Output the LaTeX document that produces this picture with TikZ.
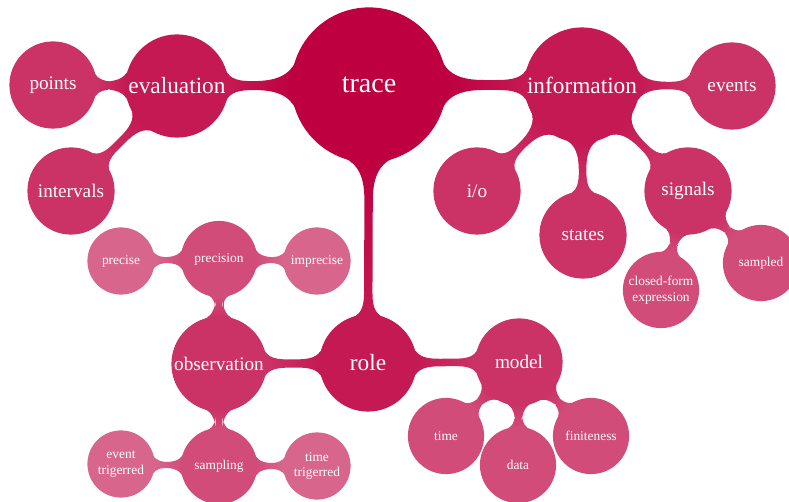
\documentclass[tikz,border=0pt]{standalone}
\usepackage{fontspec}
\setmainfont{Liberation Serif}
\usetikzlibrary{mindmap,backgrounds}
\definecolor{c0}{RGB}{190,0,64}
\colorlet{c1}{c0!90}
\colorlet{c2}{c0!80}
\colorlet{c3}{c0!70}
\colorlet{c4}{c0!60}
\begin{document}
\begin{tikzpicture}[x=1pt,y=-1pt,mindmap,
  base/.style={concept,text=white,inner sep=0pt,text width={},align=center},
  lv0/.style={base,concept color=c0,minimum size=154pt,font=\fontsize{28}{30}\selectfont},
  lv1/.style={base,concept color=c1,minimum size=96pt,font=\fontsize{23.3}{25}\selectfont},
  lv2/.style={base,concept color=c2,minimum size=86pt,font=\fontsize{19.2}{21}\selectfont},
  lv3/.style={base,concept color=c3,minimum size=75pt,font=\fontsize{13.4}{16}\selectfont},
  lv4/.style={base,concept color=c4,minimum size=66pt,font=\fontsize{13.4}{15.5}\selectfont}]
\useasboundingbox (0,0) rectangle (789,502);
% root
\node[lv0] (trace) at (369,85) {trace};
% level 1
\node[lv1,minimum size=102pt] (evaluation) at (177,86) {evaluation};
\node[lv1,minimum size=114pt] (information) at (582,85) {information};
\node[lv1] (role) at (368,363) {role};
% level 2
\node[lv2] (points) at (53,85) {points};
\node[lv2] (intervals) at (71,191) {intervals};
\node[lv2] (events) at (732,86) {events};
\node[lv2] (io) at (477,191) {i/o};
\node[lv2] (states) at (583,235) {states};
\node[lv2] (signals) at (688,191) {signals};
\node[lv2,minimum size=94pt] (observation) at (219,364) {observation};
\node[lv2] (model) at (519,362) {model};
% level 3
\node[lv3] (closed) at (661,290) {closed-form\\expression};
\node[lv3] (sampled) at (761,263) {sampled};
\node[lv3] (precision) at (219,259) {precision};
\node[lv3] (sampling) at (219,466) {sampling};
\node[lv3] (time) at (446,436) {time};
\node[lv3] (data) at (518,465) {data};
\node[lv3] (finiteness) at (591,436) {finiteness};
% level 4
\node[lv4] (precise) at (121,261) {precise};
\node[lv4] (imprecise) at (317,261) {imprecise};
\node[lv4] (eventtrig) at (121,464) {event\\trigerred};
\node[lv4] (timetrig) at (317,466) {time\\trigerred};
% connections
\begin{pgfonlayer}{background}
\path (trace) to[circle connection bar switch color=from (c0) to (c1)] (evaluation);
\path (trace) to[circle connection bar switch color=from (c0) to (c1)] (information);
\path (trace) to[circle connection bar switch color=from (c0) to (c1)] (role);
\path (evaluation) to[circle connection bar switch color=from (c1) to (c2)] (points);
\path (evaluation) to[circle connection bar switch color=from (c1) to (c2)] (intervals);
\path (information) to[circle connection bar switch color=from (c1) to (c2)] (events);
\path (information) to[circle connection bar switch color=from (c1) to (c2)] (io);
\path (information) to[circle connection bar switch color=from (c1) to (c2)] (states);
\path (information) to[circle connection bar switch color=from (c1) to (c2)] (signals);
\path (role) to[circle connection bar switch color=from (c1) to (c2)] (observation);
\path (role) to[circle connection bar switch color=from (c1) to (c2)] (model);
\path (signals) to[circle connection bar switch color=from (c2) to (c3)] (closed);
\path (signals) to[circle connection bar switch color=from (c2) to (c3)] (sampled);
\path (observation) to[circle connection bar switch color=from (c2) to (c3)] (precision);
\path (observation) to[circle connection bar switch color=from (c2) to (c3)] (sampling);
\path (model) to[circle connection bar switch color=from (c2) to (c3)] (time);
\path (model) to[circle connection bar switch color=from (c2) to (c3)] (data);
\path (model) to[circle connection bar switch color=from (c2) to (c3)] (finiteness);
\path (precision) to[circle connection bar switch color=from (c3) to (c4)] (precise);
\path (precision) to[circle connection bar switch color=from (c3) to (c4)] (imprecise);
\path (sampling) to[circle connection bar switch color=from (c3) to (c4)] (eventtrig);
\path (sampling) to[circle connection bar switch color=from (c3) to (c4)] (timetrig);
\end{pgfonlayer}
\end{tikzpicture}
\end{document}
